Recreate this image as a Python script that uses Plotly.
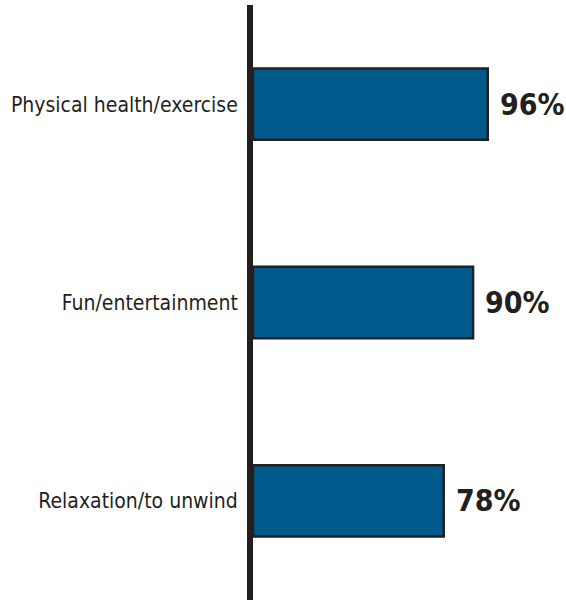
import plotly.graph_objects as go

categories = ["Physical health/exercise", "Fun/entertainment", "Relaxation/to unwind"]
values = [96, 90, 78]
value_labels = ["96%", "90%", "78%"]

narrow = "Liberation Sans Narrow, DejaVu Sans Condensed, Arial Narrow, sans-serif"

fig = go.Figure(
    go.Bar(
        x=values,
        y=categories,
        orientation="h",
        width=0.36,
        marker=dict(color="#005a8c", line=dict(color="#231f20", width=2.5)),
        hoverinfo="skip",
    )
)

for cat, val, lab in zip(categories, values, value_labels):
    fig.add_annotation(
        x=val, y=cat, text="<b>" + lab + "</b>",
        showarrow=False, xanchor="left", yanchor="middle", xshift=10,
        font=dict(family=narrow, size=30, color="#231f20"),
    )

fig.update_xaxes(range=[0, 128], visible=False, fixedrange=True)
fig.update_yaxes(
    range=[2.5, -0.5],
    showline=True, linewidth=6, linecolor="#231f20",
    showgrid=False, zeroline=False, ticks="",
    ticklabelstandoff=5, automargin=False, fixedrange=True,
    tickfont=dict(family=narrow, size=21, color="#231f20"),
)
fig.update_layout(
    width=566, height=600,
    margin=dict(l=253, r=0, t=5, b=0),
    plot_bgcolor="white", paper_bgcolor="white",
    showlegend=False,
)

# drop the browser's default body margin so the figure sits at the page corner
fig.write_html(
    "out.html",
    config={"displayModeBar": False},
    post_script="document.body.style.margin='0';",
)
